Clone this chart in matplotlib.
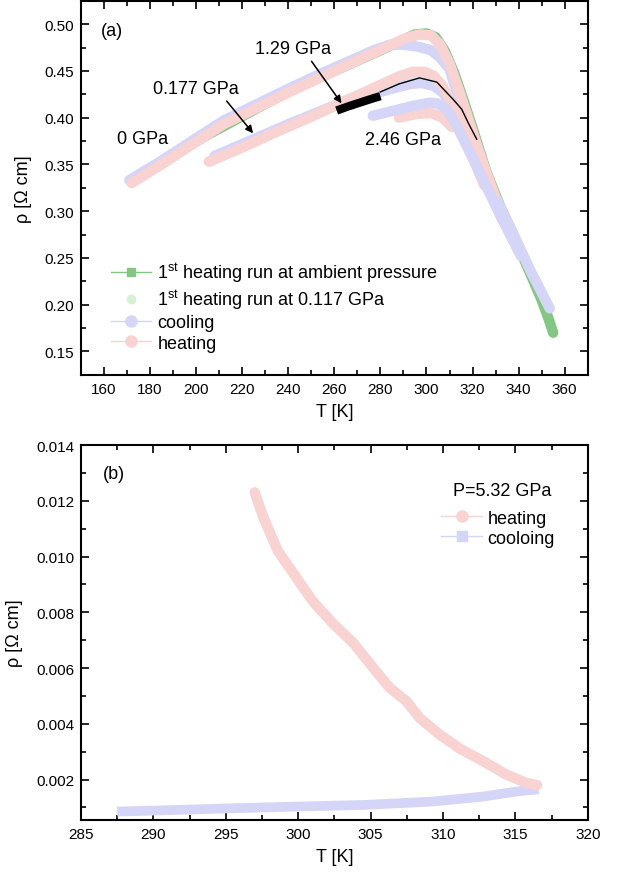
import matplotlib
matplotlib.use('Agg')
import matplotlib.pyplot as plt
from matplotlib.lines import Line2D

plt.rcParams['font.family'] = ['Liberation Sans', 'DejaVu Sans']
plt.rcParams['mathtext.fontset'] = 'custom'
plt.rcParams['mathtext.rm'] = 'Liberation Sans'

green = '#84c784'
pale_green = '#d6f2d6'
blue = '#d5d5f7'
pink = '#f9d2d2'

# ---- panel (a) data ----
# 1st heating run at ambient pressure
T_amb = [172, 200, 240, 280, 295, 300, 304, 308, 312, 316, 320, 326, 332, 340, 346, 350, 353, 355]
r_amb = [0.331, 0.375, 0.428, 0.472, 0.489, 0.490, 0.486, 0.471, 0.448, 0.419, 0.389, 0.342, 0.305, 0.262, 0.228, 0.205, 0.185, 0.170]

# 1st heating run at 0.117 GPa
T_p117 = [206, 230, 260, 290, 300, 310, 320]
r_p117 = [0.353, 0.380, 0.412, 0.443, 0.448, 0.420, 0.365]

# 0 GPa cooling / heating
T_c0 = [171, 185, 200, 212, 226, 241, 255, 268, 276, 284, 290, 296, 302, 306, 310, 314, 318, 323, 330, 337.5, 345, 350, 353.5]
r_c0 = [0.333, 0.354, 0.378, 0.397, 0.414, 0.432, 0.448, 0.462, 0.471, 0.478, 0.478, 0.476, 0.472, 0.464, 0.452, 0.420, 0.388, 0.352, 0.315, 0.277, 0.237, 0.213, 0.196]
T_h0 = [172, 185, 200, 212, 226, 241, 255, 268, 276, 284, 291, 297, 302, 306, 310, 314, 318, 322, 326, 329.5]
r_h0 = [0.330, 0.350, 0.374, 0.393, 0.410, 0.428, 0.444, 0.459, 0.468, 0.477, 0.485, 0.489, 0.488, 0.478, 0.458, 0.430, 0.400, 0.370, 0.341, 0.318]

# 0.177 GPa cooling / heating
T_c177 = [208, 225, 240, 255, 265, 275, 285, 293, 298, 303, 307, 311, 314, 318, 322, 327, 333]
r_c177 = [0.359, 0.377, 0.393, 0.408, 0.418, 0.424, 0.431, 0.436, 0.437, 0.434, 0.427, 0.414, 0.400, 0.378, 0.355, 0.325, 0.290]
T_h177 = [205.5, 220, 236, 250, 261, 272, 280, 288, 294, 299, 303, 307, 311, 315, 320, 325]
r_h177 = [0.353, 0.368, 0.386, 0.401, 0.414, 0.426, 0.435, 0.444, 0.449, 0.449, 0.445, 0.434, 0.414, 0.390, 0.358, 0.328]

# 1.29 GPa
T_129 = [261, 266, 271, 276, 280]
r_129 = [0.4076, 0.412, 0.416, 0.420, 0.423]
T_129b = [280, 288, 297, 304.5, 311.4, 315.3, 318, 321.8]
r_129b = [0.4275, 0.436, 0.4425, 0.438, 0.420, 0.409, 0.395, 0.377]

# 2.46 GPa
T_c246 = [276.7, 285, 294, 301.4, 305, 308.8, 313, 317, 322, 328, 335, 341]
r_c246 = [0.402, 0.407, 0.4125, 0.416, 0.415, 0.409, 0.392, 0.372, 0.347, 0.316, 0.281, 0.252]
T_h246 = [288, 296, 302, 307, 311]
r_h246 = [0.400, 0.404, 0.405, 0.400, 0.390]

# ---- panel (b) data ----
T_hb = [297.0, 297.6, 298.6, 299.8, 301.0, 302.4, 303.8, 305.2, 306.3, 307.5, 308.4, 309.8, 311.2, 312.8, 314.4, 315.8, 316.5]
r_hb = [0.0123, 0.0114, 0.0102, 0.0093, 0.0084, 0.0076, 0.0069, 0.0060, 0.0053, 0.0048, 0.0042, 0.0036, 0.0031, 0.00265, 0.00217, 0.00187, 0.00180]
T_cb = [287.5, 291, 295.5, 300, 304.7, 309.3, 312.8, 315.1, 316.6]
r_cb = [0.00085, 0.0009, 0.00097, 0.00103, 0.00109, 0.00121, 0.00139, 0.00157, 0.00165]

fig = plt.figure(figsize=(6.18, 8.78), dpi=100)
ax1 = fig.add_axes([0.131, 0.572, 0.820, 0.426])
ax2 = fig.add_axes([0.131, 0.065, 0.820, 0.427])

band = dict(lw=7.5, solid_capstyle='round', solid_joinstyle='round')

ax1.plot(T_amb, r_amb, color=green, zorder=1, **band)
ax1.plot(T_p117, r_p117, color=pale_green, zorder=1, **band)
ax1.plot(T_c0, r_c0, color=blue, zorder=2, **band)
ax1.plot(T_c177, r_c177, color=blue, zorder=2, **band)
ax1.plot(T_h0, r_h0, color=pink, zorder=3, **band)
ax1.plot(T_h177, r_h177, color=pink, zorder=3, **band)
ax1.plot(T_h246, r_h246, color=pink, zorder=3, **band)
ax1.plot(T_c246, r_c246, color=blue, zorder=4, **band)
ax1.plot(T_129, r_129, color='black', lw=6, solid_capstyle='butt', zorder=5)
ax1.plot(T_129b, r_129b, color='black', lw=1.0, zorder=5)

ax1.set_xlim(150, 370)
ax1.set_ylim(0.125, 0.525)
ax1.set_xticks(range(160, 361, 20))
ax1.set_xticks(range(150, 371, 10), minor=True)
ax1.set_yticks([0.15, 0.20, 0.25, 0.30, 0.35, 0.40, 0.45, 0.50])
ax1.set_yticks([0.125 + 0.025 * i for i in range(17)], minor=True)
ax1.set_yticklabels(['0.15', '0.20', '0.25', '0.30', '0.35', '0.40', '0.45', '0.50'])

ax1.text(158.5, 0.4931, '(a)', fontsize=13, va='center')
ax1.text(165.5, 0.3776, '0 GPa', fontsize=13, va='center')
ax1.text(181.1, 0.4312, '0.177 GPa', fontsize=13, va='center')
ax1.text(225.5, 0.4739, '1.29 GPa', fontsize=13, va='center')
ax1.text(273.2, 0.3763, '2.46 GPa', fontsize=13, va='center')
arrow = dict(arrowstyle='-|>', color='black', lw=1.1, mutation_scale=11)
ax1.annotate('', xy=(225.5, 0.381), xytext=(212.5, 0.420), arrowprops=arrow, zorder=6)
ax1.annotate('', xy=(263.8, 0.4129), xytext=(249.4, 0.4627), arrowprops=arrow, zorder=6)

handles = [
    Line2D([], [], color=green, lw=1, marker='s', ms=6, mfc=green, mec=green),
    Line2D([], [], color='none', lw=1, marker='o', ms=6, mfc=pale_green, mec=pale_green),
    Line2D([], [], color=blue, lw=1, marker='o', ms=8, mfc=blue, mec=blue),
    Line2D([], [], color=pink, lw=1, marker='o', ms=8, mfc=pink, mec=pink),
]
labels = [r'1$^{\rm st}$ heating run at ambient pressure',
          r'1$^{\rm st}$ heating run at 0.117 GPa',
          'cooling', 'heating']
ax1.legend(handles, labels, loc='upper left', bbox_to_anchor=(0.06, 0.305),
           frameon=False, fontsize=13, borderpad=0, borderaxespad=0,
           handlelength=2.2, handletextpad=0.35, labelspacing=0.18)

ax2.plot(T_cb, r_cb, color=blue, lw=7, solid_capstyle='butt', zorder=2)
ax2.plot(T_hb, r_hb, color=pink, lw=7.5, solid_capstyle='round', solid_joinstyle='round', zorder=3)
ax2.set_xlim(285, 320)
ax2.set_ylim(0.00055, 0.014)
ax2.set_xticks(range(285, 321, 5))
ax2.set_xticks([285 + 2.5 * i for i in range(15)], minor=True)
ax2.set_yticks([0.002, 0.004, 0.006, 0.008, 0.010, 0.012, 0.014])
ax2.set_yticks([0.001 * i for i in range(1, 15)], minor=True)
ax2.set_yticklabels(['0.002', '0.004', '0.006', '0.008', '0.010', '0.012', '0.014'])
ax2.text(286.5, 0.01298, '(b)', fontsize=13, va='center')
ax2.text(310.7, 0.01236, 'P=5.32 GPa', fontsize=13, va='center')
handles_b = [
    Line2D([], [], color=pink, lw=1, marker='o', ms=8, mfc=pink, mec=pink),
    Line2D([], [], color=blue, lw=1, marker='s', ms=7, mfc=blue, mec=blue),
]
ax2.legend(handles_b, ['heating', 'cooloing'], loc='upper left', bbox_to_anchor=(0.71, 0.828),
           frameon=False, fontsize=13, borderpad=0, borderaxespad=0,
           handlelength=2.3, handletextpad=0.3, labelspacing=0.18)

for ax in (ax1, ax2):
    for s in ax.spines.values():
        s.set_linewidth(1.5)
    ax.tick_params(which='both', direction='in', top=True, right=True, labelsize=11, width=1.2, pad=5)
    ax.tick_params(which='major', length=6)
    ax.tick_params(which='minor', length=3.5)
    ax.set_xlabel('T [K]', fontsize=13, labelpad=5)
    ax.set_ylabel('ρ [Ω cm]', fontsize=13, labelpad=9)

fig.savefig('out.png', dpi=100)
